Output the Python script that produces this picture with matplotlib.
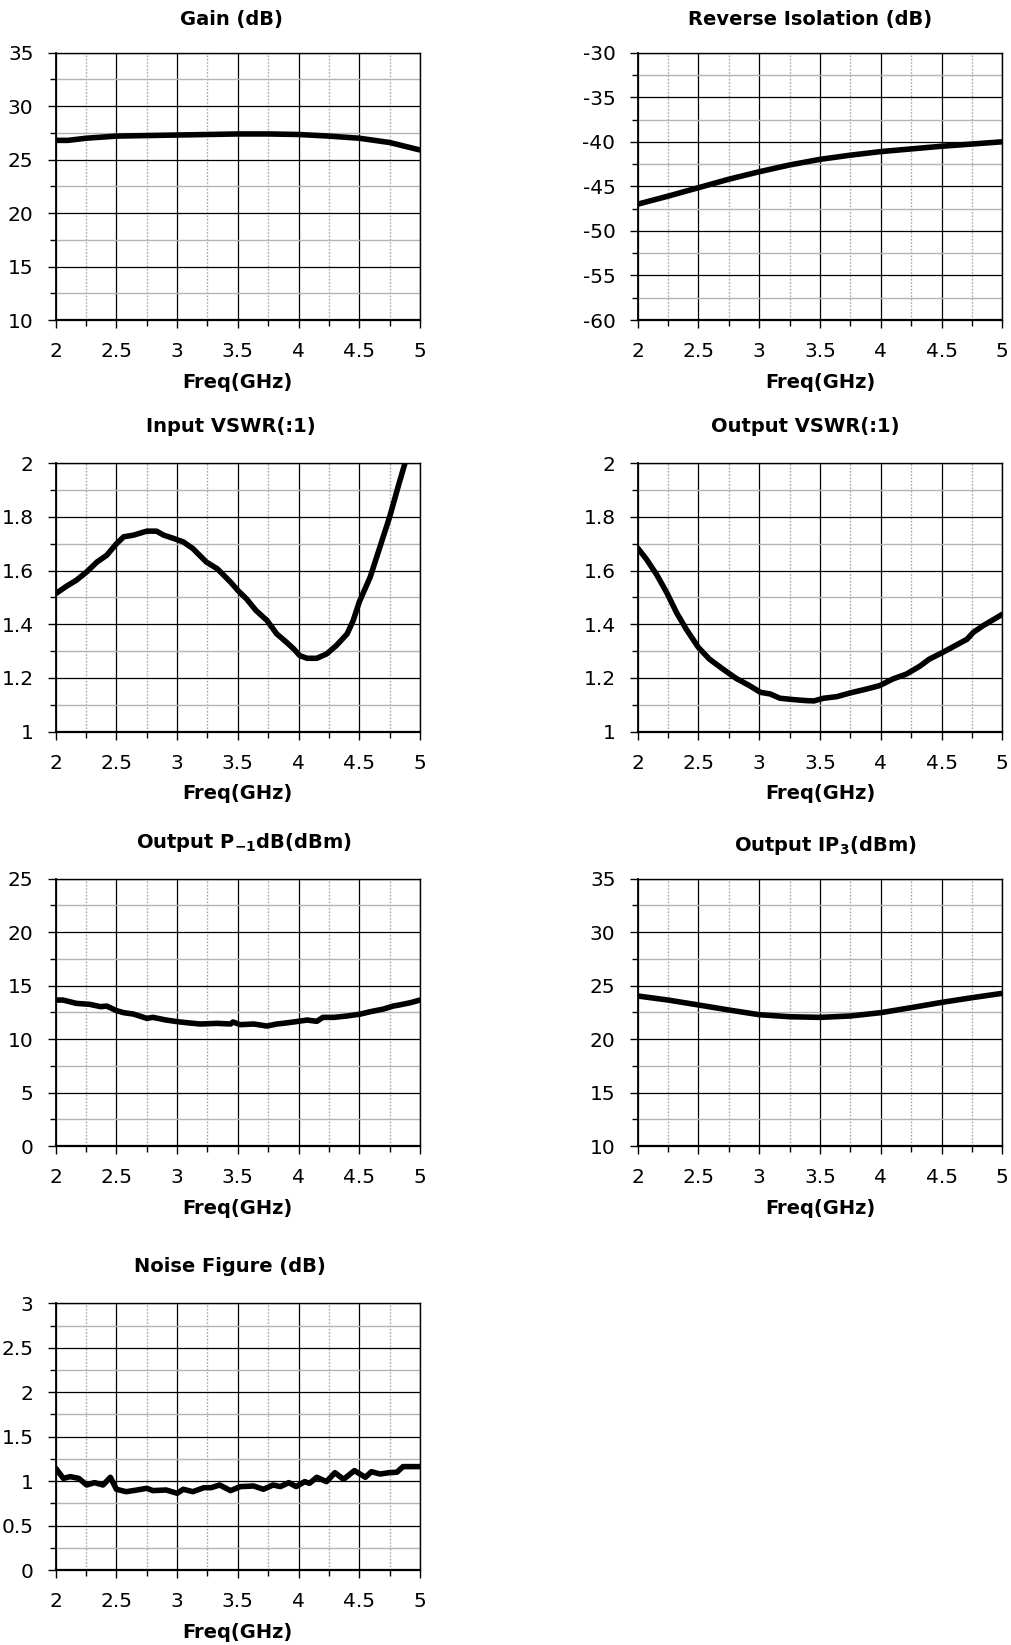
import numpy as np
import matplotlib
matplotlib.use("Agg")
import matplotlib.pyplot as plt
from matplotlib.ticker import MultipleLocator

plt.rcParams["font.family"] = ["DejaVu Sans"]
plt.rcParams["axes.unicode_minus"] = False
plt.rcParams["mathtext.fontset"] = "custom"
plt.rcParams["mathtext.rm"] = "DejaVu Sans:bold"
plt.rcParams["mathtext.default"] = "rm"

W, H = 1011, 1645

# ---- data ----
freq_ticks = [2, 2.5, 3, 3.5, 4, 4.5, 5]
freq_labels = ["2", "2.5", "3", "3.5", "4", "4.5", "5"]

gain_f = [2.0, 2.1, 2.25, 2.5, 2.75, 3.0, 3.25, 3.5, 3.75, 4.0, 4.25, 4.5, 4.75, 5.0]
gain_db = [26.8, 26.8, 27.0, 27.2, 27.25, 27.3, 27.35, 27.4, 27.4, 27.35, 27.2, 27.0, 26.6, 25.9]

iso_f = [2.0, 2.25, 2.5, 2.75, 3.0, 3.25, 3.5, 3.75, 4.0, 4.25, 4.5, 4.75, 5.0]
iso_db = [-47.0, -46.1, -45.15, -44.2, -43.36, -42.6, -41.97, -41.5, -41.1, -40.8, -40.5, -40.25, -40.0]

vin_f = [2.0, 2.09, 2.17, 2.255, 2.34, 2.42, 2.5, 2.56, 2.64, 2.75, 2.83, 2.89, 2.97,
         3.05, 3.13, 3.24, 3.33, 3.44, 3.5, 3.57, 3.65, 3.74, 3.82, 3.9, 3.96, 4.01,
         4.07, 4.15, 4.23, 4.31, 4.4, 4.45, 4.5, 4.59, 4.67, 4.75, 4.82, 4.876, 5.0]
vin_vswr = [1.514, 1.542, 1.564, 1.595, 1.632, 1.657, 1.70, 1.726, 1.732, 1.747, 1.747,
            1.732, 1.72, 1.707, 1.682, 1.632, 1.607, 1.557, 1.526, 1.495, 1.451, 1.414,
            1.364, 1.333, 1.308, 1.283, 1.273, 1.273, 1.289, 1.32, 1.364, 1.414, 1.483,
            1.576, 1.688, 1.80, 1.913, 2.0, 2.19]

vout_f = [2.0, 2.074, 2.156, 2.24, 2.32, 2.4, 2.5, 2.59, 2.7, 2.81, 2.92, 3.01, 3.09,
          3.17, 3.28, 3.39, 3.45, 3.53, 3.64, 3.75, 3.88, 3.99, 4.1, 4.21, 4.32, 4.4,
          4.51, 4.62, 4.71, 4.76, 4.84, 4.93, 5.0]
vout_vswr = [1.684, 1.641, 1.585, 1.517, 1.443, 1.381, 1.313, 1.27, 1.233, 1.198, 1.171,
             1.146, 1.14, 1.124, 1.119, 1.115, 1.114, 1.124, 1.13, 1.144, 1.158, 1.171,
             1.196, 1.214, 1.243, 1.27, 1.295, 1.322, 1.344, 1.369, 1.394, 1.418, 1.437]

p1_f = [2.0, 2.06, 2.17, 2.28, 2.37, 2.42, 2.5, 2.56, 2.64, 2.75, 2.8, 2.91, 3.0, 3.08,
        3.19, 3.33, 3.44, 3.46, 3.52, 3.63, 3.74, 3.82, 3.87, 3.96, 4.07, 4.15, 4.2,
        4.29, 4.4, 4.51, 4.59, 4.7, 4.78, 4.83, 4.92, 5.0]
p1_dbm = [13.65, 13.65, 13.34, 13.25, 13.03, 13.09, 12.66, 12.47, 12.34, 11.94, 12.03,
          11.78, 11.63, 11.53, 11.41, 11.47, 11.41, 11.6, 11.35, 11.41, 11.22, 11.41,
          11.47, 11.6, 11.78, 11.66, 12.03, 12.03, 12.16, 12.34, 12.56, 12.81, 13.09,
          13.19, 13.4, 13.65]

ip3_f = [2.0, 2.25, 2.5, 2.75, 3.0, 3.25, 3.5, 3.75, 4.0, 4.25, 4.5, 4.75, 5.0]
ip3_dbm = [24.03, 23.65, 23.19, 22.72, 22.28, 22.09, 22.03, 22.16, 22.47, 22.94, 23.43, 23.87, 24.28]

nf_f = [2.0, 2.063, 2.12, 2.19, 2.255, 2.32, 2.39, 2.45, 2.5, 2.58, 2.67, 2.75, 2.8,
        2.91, 3.0, 3.05, 3.13, 3.22, 3.28, 3.35, 3.44, 3.52, 3.63, 3.71, 3.79, 3.85,
        3.92, 3.98, 4.05, 4.09, 4.15, 4.23, 4.3, 4.37, 4.46, 4.55, 4.6, 4.67, 4.75,
        4.81, 4.86, 4.94, 5.0]
nf_db = [1.144, 1.031, 1.05, 1.031, 0.956, 0.983, 0.956, 1.043, 0.908, 0.881, 0.90,
         0.919, 0.893, 0.90, 0.863, 0.908, 0.881, 0.926, 0.926, 0.956, 0.893, 0.938,
         0.945, 0.908, 0.956, 0.938, 0.983, 0.938, 0.994, 0.975, 1.043, 0.994, 1.095,
         1.02, 1.118, 1.043, 1.106, 1.08, 1.095, 1.10, 1.163, 1.163, 1.163]

gain_yt = [10, 15, 20, 25, 30, 35]
iso_yt = [-60, -55, -50, -45, -40, -35, -30]
vswr_yt = [1, 1.2, 1.4, 1.6, 1.8, 2]
p1_yt = [0, 5, 10, 15, 20, 25]
ip3_yt = [10, 15, 20, 25, 30, 35]
nf_yt = [0, 0.5, 1, 1.5, 2, 2.5, 3]


def fmt(v):
    return ("%g" % v)


fig = plt.figure(figsize=(W / 100, H / 100), dpi=100)

# axes boxes in pixels: left, top, right, bottom
cols = [(55.7, 420.0), (637.7, 1002.3)]
rows = [(52.7, 320.0), (463.3, 731.5), (878.7, 1146.0), (1303.3, 1570.0)]


def panel(col, row, x, y, yt, title, tx, ty):
    l, r = cols[col]
    t, b = rows[row]
    ax = fig.add_axes([l / W, 1 - b / H, (r - l) / W, (b - t) / H])
    ax.set_xlim(2, 5)
    ax.set_ylim(yt[0], yt[-1])
    ax.set_xticks(freq_ticks)
    ax.set_xticklabels(freq_labels)
    ax.set_yticks(yt)
    ax.set_yticklabels([fmt(v) for v in yt])
    ax.xaxis.set_minor_locator(MultipleLocator(0.25))
    ax.yaxis.set_minor_locator(MultipleLocator((yt[1] - yt[0]) / 2))
    ax.grid(which="major", color="black", lw=0.9)
    ax.grid(which="minor", axis="y", color="#b4b4b4", lw=1.0)
    ax.grid(which="minor", axis="x", color="#a8a8a8", lw=1.0, ls=(0, (1.2, 1.2)))
    ax.set_axisbelow(True)
    ax.tick_params(which="major", length=6, width=1, labelsize=14.5, pad=10, direction="out")
    ax.tick_params(which="minor", length=4, width=1, direction="out")
    for s in ax.spines.values():
        s.set_color("black")
        s.set_linewidth(1.0)
    ax.spines["bottom"].set_linewidth(1.6)
    ax.spines["left"].set_linewidth(1.3)
    ax.plot(x, y, color="black", lw=4.0, solid_capstyle="round", solid_joinstyle="round")
    fig.text(tx / W, 1 - ty / H, title, ha="center", va="center",
             fontsize=14, fontweight="bold")
    fig.text((l + r) / 2 / W, 1 - (b + 62) / H, "Freq(GHz)", ha="center", va="center",
             fontsize=14, fontweight="bold")
    return ax


panel(0, 0, gain_f, gain_db, gain_yt, "Gain (dB)", 231, 20)
panel(1, 0, iso_f, iso_db, iso_yt, "Reverse Isolation (dB)", 810, 20)
panel(0, 1, vin_f, vin_vswr, vswr_yt, "Input VSWR(:1)", 231, 427)
panel(1, 1, vout_f, vout_vswr, vswr_yt, "Output VSWR(:1)", 805, 427)
panel(0, 2, p1_f, p1_dbm, p1_yt, r"Output P$_{\mathrm{-1}}$dB(dBm)", 244, 843)
panel(1, 2, ip3_f, ip3_dbm, ip3_yt, r"Output IP$_{\mathrm{3}}$(dBm)", 825, 845)
panel(0, 3, nf_f, nf_db, nf_yt, "Noise Figure (dB)", 230, 1267)

fig.savefig("out.png", dpi=100)
